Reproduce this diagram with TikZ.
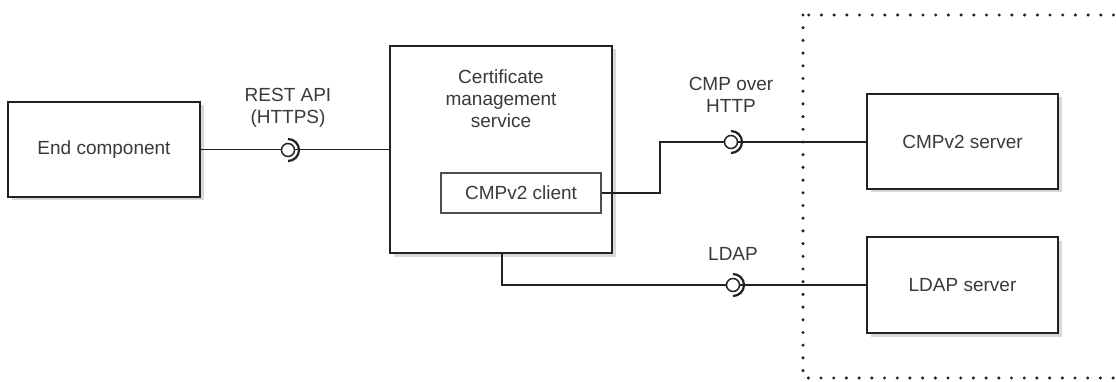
\documentclass[tikz,border=0pt]{standalone}
\usepackage{fontspec}
\setmainfont{Liberation Sans}
\usetikzlibrary{shadows,calc}
\definecolor{ink}{HTML}{222222}
\definecolor{txt}{HTML}{3A3A3A}
\definecolor{shade}{HTML}{8A8FA8}
\tikzset{
  base/.style={font=\fontsize{19}{22}\selectfont, text=txt},
  comp/.style={base, draw=ink, line width=1.7pt, fill=white, inner sep=0pt,
    drop shadow={shadow xshift=3.5pt, shadow yshift=-3.5pt, opacity=0.35, fill=shade}},
  subcomp/.style={base, draw=ink!80, line width=1.5pt, fill=white, inner sep=0pt},
  wire/.style={draw=ink, line width=1.7pt},
  ball/.style={circle, draw=ink, line width=1.5pt, fill=white, minimum size=13pt, inner sep=0pt},
  socket/.style={draw=ink, line width=2.2pt},
  lbl/.style={base, align=center},
  boundary/.style={draw=ink, line width=3.4pt, line cap=round, dash pattern=on 0pt off 12.7pt}
}
\begin{document}
\begin{tikzpicture}[x=1pt, y=-1pt]
  \useasboundingbox (0,0) rectangle (1116,382);
  \clip (0,0) rectangle (1116,382);
  \fill[white] (0,0) rectangle (1116,382);

  % external system boundary
  \draw[boundary] (803,15) rectangle (1135,378);

  % components
  \node[comp, minimum width=192pt, minimum height=95pt] (end) at (104,149.5) {End component};
  \node[comp, minimum width=222pt, minimum height=207pt] (cms) at (501,149.5) {};
  \node[lbl] (cmstxt) at (501,99) {Certificate\\management\\service};
  \node[subcomp, minimum width=160pt, minimum height=40pt] (client) at (521,193) {CMPv2 client};
  \node[comp, minimum width=191pt, minimum height=95pt] (cmps) at (962.5,141.5) {CMPv2 server};
  \node[comp, minimum width=191pt, minimum height=96pt] (ldaps) at (962.5,285) {LDAP server};

  % connectors
  \coordinate (bendA) at (660,193);
  \coordinate (bendB) at (660,142);
  \coordinate (bendC) at (502,285);
  \draw[wire] (end.east) -- (end.east -| cms.west);
  \draw[wire] (client.east) -- (bendA) -- (bendB) -- (bendB -| cmps.west);
  \draw[wire] (bendC |- cms.south) -- (bendC) -- (ldaps.west);

  % provided/required interfaces
  \node[ball] (rest) at (288,150) {};
  \node[ball] (cmp) at (731,142) {};
  \node[ball] (ldap) at (733,285) {};
  \foreach \i in {rest,cmp,ldap}{
    \draw[socket] ($(\i)+(0,-11)$) arc[start angle=-90, end angle=90, radius=11];
  }

  % interface labels
  \node[lbl] (restlbl) at (288,108) {REST API\\(HTTPS)};
  \node[lbl] (cmplbl) at (731,95) {CMP over\\HTTP};
  \node[lbl] (ldaplbl) at (733,254) {LDAP};
\end{tikzpicture}
\end{document}
